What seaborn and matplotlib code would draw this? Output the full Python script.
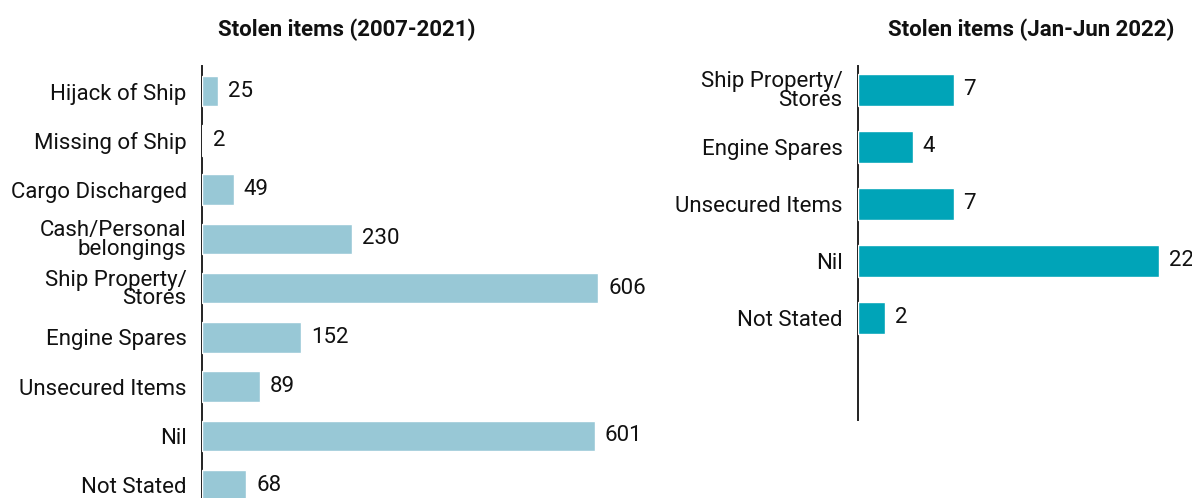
"""
Stolen items bar charts: 2007-2021 totals and Jan-Jun 2022.
"""

import matplotlib
matplotlib.use("Agg")
import matplotlib.pyplot as plt
import seaborn as sns

# data
cats_hist = [
    "Hijack of Ship",
    "Missing of Ship",
    "Cargo Discharged",
    "Cash/Personal\nbelongings",
    "Ship Property/\nStores",
    "Engine Spares",
    "Unsecured Items",
    "Nil",
    "Not Stated",
]
vals_hist = [25, 2, 49, 230, 606, 152, 89, 601, 68]

cats_2022 = [
    "Ship Property/\nStores",
    "Engine Spares",
    "Unsecured Items",
    "Nil",
    "Not Stated",
]
vals_2022 = [7, 4, 7, 22, 2]

title_hist = "Stolen items (2007-2021)"
title_2022 = "Stolen items (Jan-Jun 2022)"

COLOR_HIST = "#98C8D6"
COLOR_2022 = "#00A4B8"
TEXT = "#111111"

W, H = 1192, 498


def px_axes(fig, x0, y0, x1, y1):
    """Axes from pixel box (top-left origin)."""
    return fig.add_axes([x0 / W, 1 - y1 / H, (x1 - x0) / W, (y1 - y0) / H])


def style_axes(ax):
    sns.despine(ax=ax, top=True, right=True, bottom=True, left=False)
    ax.spines["left"].set_color("#222222")
    ax.spines["left"].set_linewidth(1.4)
    ax.spines["left"].set_zorder(0.5)
    ax.set_xticks([])
    ax.set_xlabel("")
    ax.set_ylabel("")
    ax.tick_params(axis="y", length=0, pad=11, labelsize=16, labelcolor=TEXT)
    for t in ax.get_yticklabels():
        t.set_linespacing(0.82)
    ax.set_facecolor("white")


def draw_panel(ax, cats, vals, color, width):
    sns.barplot(
        x=vals, y=cats, orient="h", color=color, saturation=1,
        width=width, ax=ax,
    )
    ax.bar_label(ax.containers[0], fmt="%d", padding=7, fontsize=16,
                 color=TEXT)
    style_axes(ax)


def main():
    sns.set_style("white")
    plt.rcParams["font.family"] = ["Roboto", "DejaVu Sans"]

    fig = plt.figure(figsize=(W / 100, H / 100), dpi=100)

    # left panel
    ax1 = px_axes(fig, 202, 66, 660, 498)
    draw_panel(ax1, cats_hist, vals_hist, COLOR_HIST, 0.62)
    ax1.set_xlim(0, 700)
    ax1.set_ylim(8.26, -0.51)

    # right panel
    ax2 = px_axes(fig, 858, 66, 1192, 420)
    draw_panel(ax2, cats_2022, vals_2022, COLOR_2022, 0.55)
    ax2.set_xlim(0, 24.4)
    ax2.set_ylim(5.79, -0.42)

    fig.text(347 / W, 1 - 30 / H, title_hist, ha="center", va="center",
             fontsize=16, fontweight="bold", color=TEXT)
    fig.text(1031 / W, 1 - 30 / H, title_2022, ha="center", va="center",
             fontsize=16, fontweight="bold", color=TEXT)

    fig.savefig("out.png", dpi=100, facecolor="white")


if __name__ == "__main__":
    main()
